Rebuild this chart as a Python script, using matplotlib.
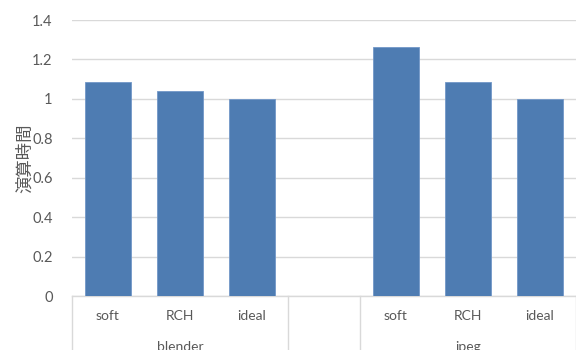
"""Bar chart: relative compute time (演算時間) for blender / jpeg."""

import matplotlib

matplotlib.use("Agg")
import matplotlib.pyplot as plt
import matplotlib.transforms as mtransforms
import numpy as np

plt.rcParams["font.family"] = ["Lato", "Noto Sans CJK JP", "DejaVu Sans"]

# Data
groups = ["blender", "", "jpeg"]
group_members = [["soft", "RCH", "ideal"], [""], ["soft", "RCH", "ideal"]]
blender_values = [1.084, 1.039, 1.0]
jpeg_values = [1.263, 1.084, 1.0]
y_ticks = [0, 0.2, 0.4, 0.6, 0.8, 1.0, 1.2, 1.4]
y_tick_labels = ["0", "0.2", "0.4", "0.6", "0.8", "1", "1.2", "1.4"]
y_label = "演算時間"

BAR_COLOR = "#4e7cb2"
EDGE_COLOR = "#7297c8"
GRID_COLOR = "#d9d9d9"
TEXT_COLOR = "#595959"

values = blender_values + [np.nan] + jpeg_values
categories = [c for members in group_members for c in members]
x = np.arange(len(categories))

fig = plt.figure(figsize=(5.76, 3.5), dpi=100)
ax = fig.add_axes([72 / 576, 1 - 296 / 350, 504 / 576, 276 / 350])

ax.bar(x, values, width=0.65, color=BAR_COLOR, edgecolor=EDGE_COLOR,
       linewidth=0.6, zorder=3)

ax.set_xlim(-0.5, len(categories) - 0.5)
ax.set_ylim(0, 1.4)
ax.set_yticks(y_ticks)
ax.set_yticklabels(y_tick_labels, fontsize=10.5, color=TEXT_COLOR)
ax.tick_params(axis="y", length=0, pad=14)
ax.set_xticks([])
ax.yaxis.grid(True, color=GRID_COLOR, linewidth=1.0, zorder=0)
for side in ["top", "right", "left"]:
    ax.spines[side].set_visible(False)
ax.spines["bottom"].set_color(GRID_COLOR)
ax.spines["bottom"].set_linewidth(1.0)

ax.set_ylabel(y_label, fontsize=12.5, color=TEXT_COLOR)
ax.yaxis.label.set_va("center")
ax.yaxis.set_label_coords((25 - 72) / 504, 0.5)

# Multi-level category axis
trans = mtransforms.blended_transform_factory(ax.transData, ax.transAxes)
for xi, cat in zip(x, categories):
    ax.text(xi, -0.074, cat, transform=trans, ha="center", va="center",
            fontsize=10, color=TEXT_COLOR)

start = 0
bounds = [-0.5]
for name, members in zip(groups, group_members):
    end = start + len(members)
    center = (start + end - 1) / 2
    if name:
        ax.text(center, -0.162, name, transform=trans, ha="center", va="top",
                fontsize=10, color=TEXT_COLOR)
    bounds.append(end - 0.5)
    start = end

for b in bounds:
    ax.plot([b, b], [0, -0.25], transform=trans, color=GRID_COLOR,
            linewidth=1.0, clip_on=False)

fig.savefig("out.png", dpi=100)
